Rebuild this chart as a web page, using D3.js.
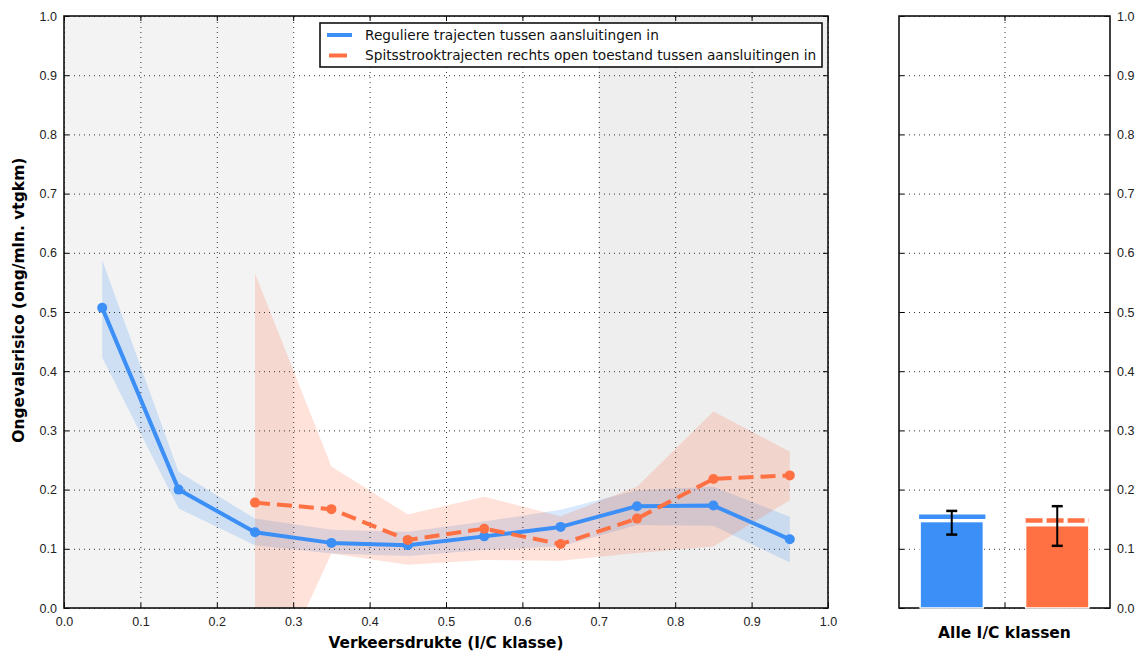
<!DOCTYPE html>
<html>
<head>
<meta charset="utf-8">
<script src="https://cdn.jsdelivr.net/npm/d3@7"></script>
<style>
  body { margin: 0; background: #fff; }
  svg { font-family: "DejaVu Sans", sans-serif; }
</style>
</head>
<body>
<svg class="risico-chart"></svg>
<script>
// I/C klassen (midden van elke klasse)
const icKlassen = [0.05, 0.15, 0.25, 0.35, 0.45, 0.55, 0.65, 0.75, 0.85, 0.95];
const regulier     = [0.507, 0.200, 0.128, 0.110, 0.106, 0.121, 0.137, 0.172, 0.173, 0.116];
const regulierLaag = [0.423, 0.168, 0.106, 0.092, 0.088, 0.098, 0.104, 0.140, 0.139, 0.077];
const regulierHoog = [0.588, 0.230, 0.151, 0.132, 0.129, 0.146, 0.166, 0.199, 0.205, 0.154];

const spitsKlassen = [0.25, 0.35, 0.45, 0.55, 0.65, 0.75, 0.85, 0.95];
const spits     = [0.178, 0.167, 0.115, 0.134, 0.108, 0.151, 0.218, 0.224];
const spitsLaag = [-0.19, 0.092, 0.073, 0.081, 0.080, 0.093, 0.104, 0.182];
const spitsHoog = [0.565, 0.239, 0.158, 0.188, 0.155, 0.205, 0.332, 0.264];

// alle I/C klassen samen
const totaalGroepen = ['Reguliere', 'Spitsstrook'];
const totaalBalk = [0.146, 0.139];
const totaalLijn = [0.154, 0.148];
const totaalLaag = [0.124, 0.105];
const totaalHoog = [0.164, 0.172];

const grijzeZones = [[0, 0.3], [0.7, 1.0]];
const xTicks = d3.range(0, 11).map(d => d / 10);
const yTicks = d3.range(0, 11).map(d => d / 10);

const legendLabels = [
  'Reguliere trajecten tussen aansluitingen in',
  'Spitsstrooktrajecten rechts open toestand tussen aansluitingen in'
];

const blauw = '#3b8ff6';
const oranje = '#ff7043';

const svgWidth = 1142, svgHeight = 653;
const svg = d3.select('svg.risico-chart')
  .attr('width', svgWidth)
  .attr('height', svgHeight);

const plotTop = 16, plotBottom = 608;
const height = plotBottom - plotTop;

const y = d3.scaleLinear().domain([0, 1]).range([plotBottom, plotTop]);

function drawFrameAxes(g, x, w, opts) {
  const yl = y.copy().range([height, 0]);

  // grid
  g.append('g')
    .attr('transform', `translate(0, ${height})`)
    .call(d3.axisBottom(x).tickValues(opts.xGrid).tickSize(-height).tickFormat(''))
    .call(s => s.select('.domain').remove())
    .selectAll('line')
    .attr('stroke', '#333')
    .attr('stroke-dasharray', '1,4');
  g.append('g')
    .call(d3.axisLeft(yl).tickValues(yTicks).tickSize(-w).tickFormat(''))
    .call(s => s.select('.domain').remove())
    .selectAll('line')
    .attr('stroke', '#333')
    .attr('stroke-dasharray', '1,4');

  // inward ticks on all sides
  const ticks = g.append('g');
  ticks.append('g')
    .attr('transform', `translate(0, ${height})`)
    .call(d3.axisBottom(x).tickValues(opts.xGrid).tickSize(-5).tickPadding(9)
      .tickFormat(opts.xLabels ? d3.format('.1f') : ''));
  ticks.append('g')
    .call(d3.axisTop(x).tickValues(opts.xGrid).tickSize(-5).tickFormat(''));
  ticks.append('g')
    .call(d3.axisLeft(yl).tickValues(yTicks).tickSize(-5).tickPadding(7)
      .tickFormat(opts.yLeft ? d3.format('.1f') : ''));
  ticks.append('g')
    .attr('transform', `translate(${w}, 0)`)
    .call(d3.axisRight(yl).tickValues(yTicks).tickSize(-5).tickPadding(7)
      .tickFormat(opts.yRight ? d3.format('.1f') : ''));
  ticks.selectAll('.domain').remove();
  ticks.selectAll('.tick line').attr('stroke', '#000');
  ticks.selectAll('.tick text').attr('fill', '#222').style('font-size', '12.5px');

  g.append('rect')
    .attr('width', w)
    .attr('height', height)
    .attr('fill', 'none')
    .attr('stroke', '#111')
    .attr('stroke-width', 1.6);
}

// ---------- linker paneel ----------
const leftX0 = 64, leftX1 = 828;
const x = d3.scaleLinear().domain([0, 1]).range([leftX0, leftX1]);

svg.append('defs').append('clipPath')
  .attr('id', 'clip-left')
  .append('rect')
  .attr('x', leftX0).attr('y', plotTop)
  .attr('width', leftX1 - leftX0).attr('height', height);

const bg = svg.append('g');
bg.selectAll('rect.zone')
  .data(grijzeZones)
  .enter().append('rect')
  .attr('class', 'zone')
  .attr('x', d => x(d[0]))
  .attr('y', plotTop)
  .attr('width', d => x(d[1]) - x(d[0]))
  .attr('height', height)
  .attr('fill', (d, i) => i === 0 ? '#f3f3f3' : '#eeeeee');

const bands = svg.append('g').attr('clip-path', 'url(#clip-left)');

const area = (xs, lo, hi) => d3.area()
  .x((d, i) => x(xs[i]))
  .y0((d, i) => y(lo[i]))
  .y1((d, i) => y(hi[i]));

const line = xs => d3.line()
  .x((d, i) => x(xs[i]))
  .y(d => y(d));

bands.append('path')
  .datum(regulier)
  .attr('fill', blauw)
  .attr('fill-opacity', 0.2)
  .attr('d', area(icKlassen, regulierLaag, regulierHoog));

bands.append('path')
  .datum(spits)
  .attr('fill', oranje)
  .attr('fill-opacity', 0.2)
  .attr('d', area(spitsKlassen, spitsLaag, spitsHoog));

const leftAxes = svg.append('g').attr('transform', `translate(${leftX0}, ${plotTop})`);
drawFrameAxes(leftAxes, d3.scaleLinear().domain([0, 1]).range([0, leftX1 - leftX0]), leftX1 - leftX0,
  { xGrid: xTicks, xLabels: true, yLeft: true, yRight: false });

const plot = svg.append('g').attr('clip-path', 'url(#clip-left)');

plot.append('path')
  .datum(regulier)
  .attr('fill', 'none')
  .attr('stroke', blauw)
  .attr('stroke-width', 4)
  .attr('stroke-linejoin', 'round')
  .attr('d', line(icKlassen));

plot.selectAll('circle.reg')
  .data(regulier)
  .enter().append('circle')
  .attr('class', 'reg')
  .attr('cx', (d, i) => x(icKlassen[i]))
  .attr('cy', d => y(d))
  .attr('r', 5)
  .attr('fill', blauw);

plot.append('path')
  .datum(spits)
  .attr('fill', 'none')
  .attr('stroke', oranje)
  .attr('stroke-width', 4)
  .attr('stroke-dasharray', '15,7')
  .attr('d', line(spitsKlassen));

plot.selectAll('circle.spits')
  .data(spits)
  .enter().append('circle')
  .attr('class', 'spits')
  .attr('cx', (d, i) => x(spitsKlassen[i]))
  .attr('cy', d => y(d))
  .attr('r', 5)
  .attr('fill', oranje);

// legenda
const legend = svg.append('g').attr('transform', 'translate(320, 23)');
legend.append('rect')
  .attr('width', 502).attr('height', 44)
  .attr('fill', '#fff')
  .attr('stroke', '#111')
  .attr('stroke-width', 1.6);
legendLabels.forEach((label, i) => {
  const ly = 12 + i * 20.5;
  legend.append('line')
    .attr('x1', i === 0 ? 7 : 9).attr('x2', i === 0 ? 32 : 27)
    .attr('y1', ly).attr('y2', ly)
    .attr('stroke', i === 0 ? blauw : oranje)
    .attr('stroke-width', 4);
  legend.append('text')
    .attr('x', 45).attr('y', ly)
    .attr('dy', '0.35em')
    .attr('font-size', 13.7)
    .attr('fill', '#111')
    .text(label);
});

svg.append('text')
  .attr('x', x(0.5)).attr('y', 648)
  .attr('text-anchor', 'middle')
  .attr('font-size', 15.3)
  .attr('font-weight', 'bold')
  .text('Verkeersdrukte (I/C klasse)');

svg.append('text')
  .attr('transform', `translate(24, ${y(0.52)}) rotate(-90)`)
  .attr('text-anchor', 'middle')
  .attr('font-size', 15.5)
  .attr('font-weight', 'bold')
  .text('Ongevalsrisico (ong/mln. vtgkm)');

// ---------- rechter paneel ----------
const rightX0 = 899, rightX1 = 1110;
const xr = d3.scaleLinear().domain([0, 2]).range([rightX0, rightX1]);

const rightAxes = svg.append('g').attr('transform', `translate(${rightX0}, ${plotTop})`);
drawFrameAxes(rightAxes, d3.scaleLinear().domain([0, 2]).range([0, rightX1 - rightX0]), rightX1 - rightX0,
  { xGrid: [1], xLabels: false, yLeft: false, yRight: true });

const kleuren = [blauw, oranje];
const barW = 0.6;

svg.selectAll('rect.totaal')
  .data(totaalBalk)
  .enter().append('rect')
  .attr('class', 'totaal')
  .attr('x', (d, i) => xr(i + 0.5 - barW / 2))
  .attr('y', d => y(d))
  .attr('width', xr(barW) - xr(0))
  .attr('height', d => y(0) - y(d))
  .attr('fill', (d, i) => kleuren[i])
  .attr('stroke', '#fff')
  .attr('stroke-width', 1.5);

totaalLijn.forEach((v, i) => {
  const x1 = xr(i + 0.5 - barW / 2) - (i === 0 ? 1 : 0);
  const x2 = xr(i + 0.5 + barW / 2) + (i === 0 ? 2 : 0);
  const dash = i === 0 ? null : '17,4';
  svg.append('line')
    .attr('x1', x1).attr('x2', x2)
    .attr('y1', y(v)).attr('y2', y(v))
    .attr('stroke', '#fff')
    .attr('stroke-width', 7.5)
    .attr('stroke-dasharray', dash);
  svg.append('line')
    .attr('x1', x1).attr('x2', x2)
    .attr('y1', y(v)).attr('y2', y(v))
    .attr('stroke', kleuren[i])
    .attr('stroke-width', 4.5)
    .attr('stroke-dasharray', dash);
});

const err = svg.append('g').attr('stroke', '#000').attr('stroke-width', 2);
totaalGroepen.forEach((g, i) => {
  const cx = xr(i + 0.5);
  err.append('line')
    .attr('x1', cx).attr('x2', cx)
    .attr('y1', y(totaalLaag[i])).attr('y2', y(totaalHoog[i]));
  [totaalLaag[i], totaalHoog[i]].forEach(v => {
    err.append('line')
      .attr('x1', cx - 5.5).attr('x2', cx + 5.5)
      .attr('y1', y(v)).attr('y2', y(v))
      .attr('stroke-width', 2.5);
  });
});

svg.append('text')
  .attr('x', xr(1)).attr('y', 638)
  .attr('text-anchor', 'middle')
  .attr('font-size', 15.5)
  .attr('font-weight', 'bold')
  .text('Alle I/C klassen');
</script>
</body>
</html>
